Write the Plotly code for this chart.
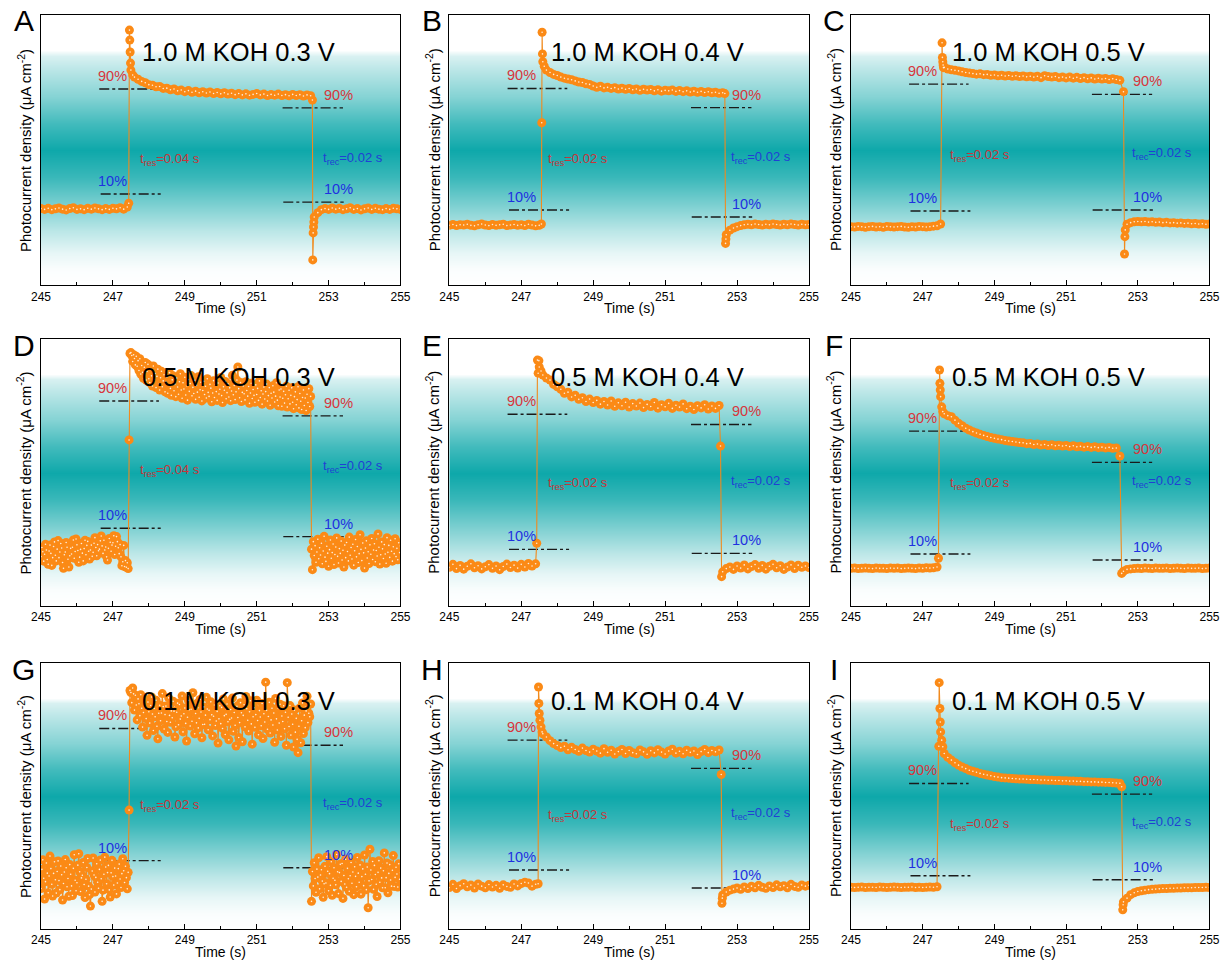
import numpy as np
import plotly.graph_objects as go

# ---------------------------------------------------------------- time grids
T_COARSE = np.round(np.linspace(245.0, 255.0, 101), 3)   # 0.1 s sampling
T_DENSE = np.round(np.linspace(245.0, 255.0, 401), 3)    # 0.025 s sampling

PANEL_LETTERS = ["A", "B", "C", "D", "E", "F", "G", "H", "I"]
PANEL_TITLES = ["1.0 M KOH 0.3 V", "1.0 M KOH 0.4 V", "1.0 M KOH 0.5 V",
                "0.5 M KOH 0.3 V", "0.5 M KOH 0.4 V", "0.5 M KOH 0.5 V",
                "0.1 M KOH 0.3 V", "0.1 M KOH 0.4 V", "0.1 M KOH 0.5 V"]

# ------------------------------------------------ photocurrent (relative units)
CUR_A = [28.3, 28.0, 28.4, 27.9, 28.2, 28.5, 28.1, 27.8, 28.3, 28.6, 28.0, 28.2, 27.9,
         28.4, 28.1, 28.5, 28.2, 27.9, 28.3, 28.0, 28.4, 28.2, 28.6, 28.1, 28.9,
         79.6, 77.0, 76.2, 75.4, 74.9, 74.2, 74.0, 73.4, 73.5, 72.8, 72.9, 72.3, 72.6,
         71.9, 72.2, 71.6, 72.0, 71.4, 71.8, 71.2, 71.6, 71.1, 71.5, 70.9, 71.3, 70.8,
         71.2, 70.7, 71.0, 70.5, 70.9, 70.4, 70.8, 70.3, 70.6, 70.9, 70.4, 70.7, 70.2,
         70.6, 70.3, 70.7, 70.2, 70.5, 70.1, 70.6, 70.2, 70.5, 70.0, 70.4, 70.1,
         25.2, 26.8, 27.9, 28.3, 28.0, 28.5, 28.1, 28.4, 27.9, 28.2, 28.6, 28.0, 28.3,
         27.8, 28.2, 28.5, 28.0, 28.4, 28.1, 27.9, 28.3, 28.0, 28.4, 28.2, 28.0]
EXTRA_T_A = [247.44, 247.46, 247.47, 247.48, 247.49, 247.55, 252.55, 252.56, 252.57, 252.58, 252.59]
EXTRA_I_A = [30.3, 94.4, 90.7, 86.3, 82.2, 77.8, 68.5, 9.3, 19.3, 21.5, 23.3]

CUR_B = [22.1, 22.4, 22.0, 22.3, 22.2, 22.5, 22.1, 21.9, 22.3, 22.6, 22.2, 22.0, 22.4,
         22.1, 22.3, 22.5, 22.0, 22.2, 22.4, 22.1, 22.3, 22.0, 22.5, 22.2, 21.9, 22.1,
         82.7, 79.6, 78.7, 78.0, 77.6, 77.0, 76.6, 76.3, 76.0, 75.6, 75.2, 75.0, 74.5,
         74.3, 73.7, 73.2, 73.6, 73.0, 73.2, 72.8, 73.1, 72.6, 72.9, 72.5, 72.8, 72.3,
         72.6, 72.1, 72.5, 72.2, 72.4, 71.9, 72.3, 71.8, 72.1, 71.9, 72.2, 71.7, 72.0,
         71.6, 71.9, 71.5, 71.8, 71.4, 71.7, 71.3, 71.6, 71.2, 71.4, 71.0, 71.2,
         18.6, 20.3, 21.1, 21.6, 22.0, 22.3, 22.5, 22.3, 22.6, 22.4, 22.2, 22.5, 22.3,
         22.6, 22.4, 22.2, 22.5, 22.3, 22.6, 22.4, 22.2, 22.5, 22.3, 22.4]
EXTRA_T_B = [247.56, 247.57, 247.58, 247.59, 247.64, 252.66, 252.68, 252.69]
EXTRA_I_B = [22.6, 60.1, 93.6, 85.6, 81.0, 70.9, 15.4, 17.0]

CUR_C = [21.6, 21.5, 21.7, 21.6, 21.4, 21.6, 21.7, 21.5, 21.6, 21.4, 21.7, 21.6, 21.5,
         21.6, 21.7, 21.5, 21.4, 21.6, 21.5, 21.7, 21.6, 21.5, 21.6, 21.8, 21.9, 22.6,
         80.6, 80.0, 79.7, 79.5, 79.3, 79.0, 78.7, 78.5, 78.3, 78.1, 78.2, 77.9, 78.0,
         77.7, 77.8, 77.5, 77.7, 77.4, 77.6, 77.3, 77.5, 77.2, 77.4, 77.1, 77.3, 77.0,
         77.3, 76.8, 77.5, 77.2, 77.0, 77.2, 76.8, 77.0, 76.7, 77.0, 76.6, 76.9, 76.5,
         76.8, 76.4, 76.7, 76.3, 76.6, 76.3, 76.5, 76.1, 76.4, 76.1, 75.8, 71.6,
         22.5, 23.1, 23.4, 23.5, 23.4, 23.5, 23.3, 23.4, 23.2, 23.3, 23.1, 23.2, 23.0,
         23.1, 22.9, 23.0, 22.8, 22.9, 22.7, 22.8, 22.6, 22.7, 22.5, 22.6]
EXTRA_T_C = [247.54, 247.55, 247.56, 247.57, 247.58, 252.63, 252.64, 252.65]
EXTRA_I_C = [89.7, 84.3, 82.7, 81.5, 80.5, 11.5, 17.9, 20.4]

CUR_D = [18.5, 21.9, 20.3, 16.8, 19.4, 23.1, 21.0, 17.4, 15.6, 20.6,
         22.8, 19.7, 15.2, 18.1, 22.3, 24.0, 19.0, 16.9, 21.3, 24.5,
         18.1, 20.2, 23.4, 21.7, 16.3, 14.1, 19.2, 20.2, 23.8, 22.0,
         17.5, 14.6, 18.8, 21.6, 19.5, 22.0, 24.7, 17.9, 20.4, 25.1,
         22.9, 20.8, 16.4, 18.3, 21.2, 23.4, 19.8, 16.9, 21.5, 24.6,
         19.2, 22.7, 24.2, 20.5, 17.6, 21.0, 22.8, 18.6, 20.1, 23.5,
         25.6, 21.9, 18.8, 23.0, 20.7, 21.3, 24.4, 26.2, 22.5, 19.7,
         24.6, 21.0, 22.1, 18.4, 17.2, 21.6, 25.3, 23.9, 20.5, 22.8,
         23.7, 26.3, 19.3, 22.4, 26.0, 24.1, 21.8, 19.6, 23.0, 18.4,
         15.1, 16.6, 22.7, 14.8, 17.0, 14.5, 16.2, 14.0,
         62.2,
         94.6, 94.9, 93.8, 91.6, 94.1, 92.7, 90.3, 93.5, 89.8, 91.9,
         88.2, 92.6, 86.9, 90.1, 87.5, 85.3, 89.4, 91.2, 84.6, 87.8,
         90.5, 85.1, 83.7, 88.6, 86.2, 82.4, 89.9, 84.9, 87.1, 81.8,
         86.0, 88.7, 83.2, 80.9, 85.5, 87.9, 82.1, 84.3, 86.6, 80.2,
         83.9, 85.8, 79.7, 82.8, 87.4, 81.5, 78.9, 84.7, 86.2, 80.6,
         83.1, 78.4, 85.4, 82.0, 79.3, 84.0, 87.0, 80.9, 77.8, 83.6,
         81.3, 85.7, 79.0, 82.5, 77.1, 84.8, 80.4, 83.3, 86.3, 78.7,
         81.9, 79.6, 84.5, 77.4, 82.7, 80.1, 85.9, 78.2, 81.0, 83.8,
         76.8, 80.7, 84.2, 79.2, 82.3, 77.9, 85.1, 80.0, 78.5, 83.0,
         81.6, 76.5, 79.8, 84.4, 78.1, 82.9, 80.3, 77.0, 83.5, 79.4,
         81.2, 85.6, 78.8, 76.2, 82.1, 80.8, 84.1, 77.6, 79.9, 83.2,
         78.3, 81.7, 76.9, 80.5, 86.4, 79.1, 82.6, 77.3, 80.2, 84.6,
         89.5, 81.4, 78.0, 83.7, 76.6, 80.0, 82.4, 79.5, 77.2, 84.0,
         80.7, 78.6, 82.2, 75.9, 79.8, 83.4, 77.7, 81.1, 78.9, 76.3,
         82.8, 79.2, 81.5, 77.0, 84.3, 78.1, 80.6, 75.6, 79.4, 82.0,
         77.5, 80.3, 83.1, 76.8, 78.8, 81.8, 75.2, 79.7, 77.9, 82.5,
         80.1, 76.4, 78.6, 83.6, 77.1, 75.0, 80.9, 78.3, 81.3, 74.8,
         77.8, 80.4, 76.0, 79.1, 82.3, 74.5, 77.6, 80.8, 75.7, 78.9,
         81.7, 76.3, 73.9, 78.4, 80.2, 75.4, 77.3, 82.1, 74.2, 79.6,
         76.7, 73.6, 78.1, 80.9, 75.1, 77.9, 73.2, 79.3, 76.2, 81.4,
         74.7, 78.5,
         21.3, 13.6, 24.1, 18.9, 22.6, 16.4, 20.2, 25.0, 17.7, 21.8,
         19.1, 23.5, 15.8, 20.6, 26.1, 18.3, 16.7, 22.4, 19.8, 14.9,
         21.1, 24.7, 17.9, 20.0, 23.2, 15.5, 19.3, 22.1, 25.5, 18.6,
         16.1, 21.5, 19.7, 24.3, 17.2, 20.9, 14.6, 22.8, 18.1, 23.8,
         20.4, 16.9, 25.8, 19.0, 21.9, 17.6, 23.1, 15.3, 20.7, 24.9,
         18.4, 22.3, 16.3, 19.6, 26.7, 21.2, 17.0, 23.6, 19.9, 14.2,
         21.7, 24.4, 18.0, 20.3, 15.9, 22.9, 19.4, 25.3, 17.4, 21.0,
         23.3, 16.6, 20.8, 18.7, 27.0, 22.0, 15.7, 19.2, 24.0, 21.4,
         17.8, 23.0, 19.5, 16.0, 25.6, 20.1, 22.7, 18.2, 24.6, 20.5,
         16.8, 22.2, 19.6, 25.2, 18.5, 21.6, 17.3, 23.7, 20.0, 22.5]

CUR_E = [14.5, 15.6, 14.0, 15.2, 13.8, 14.9, 15.8, 14.3, 15.1, 13.9, 14.7, 15.5, 14.1,
         15.0, 13.6, 14.8, 15.7, 14.4, 15.3, 14.2, 15.6, 14.6, 15.9, 15.0, 15.8,
         89.5, 86.5, 85.4, 84.6, 83.0, 82.1, 81.2, 79.7, 80.1, 78.3, 78.9, 77.4, 78.0,
         76.6, 77.5, 76.2, 77.0, 75.6, 76.6, 75.3, 76.8, 74.8, 76.1, 75.0, 76.3, 74.5,
         75.8, 74.9, 76.0, 74.3, 75.5, 74.7, 76.2, 74.1, 75.4, 74.6, 75.9, 74.0, 75.2,
         74.5, 75.7, 73.9, 74.8, 73.6, 75.0, 74.2, 75.4, 73.8, 74.9, 74.0, 75.1,
         12.8, 14.0, 14.6, 13.7, 15.0, 14.2, 15.4, 13.9, 14.8, 15.5, 14.1, 15.2, 13.8,
         14.9, 15.6, 14.3, 15.1, 13.7, 14.6, 15.4, 14.0, 15.3, 14.5, 15.0, 14.4]
EXTRA_T_E = [247.43, 247.45, 247.47, 247.49, 247.55, 252.54, 252.57]
EXTRA_I_E = [23.5, 92.1, 87.2, 91.9, 88.0, 59.9, 11.0]

CUR_F = [14.1, 14.2, 14.0, 14.1, 14.2, 14.1, 14.0, 14.2, 14.1, 14.1, 14.0, 14.2, 14.1,
         14.2, 14.0, 14.1, 14.2, 14.1, 14.0, 14.2, 14.1, 14.3, 14.2, 14.3, 14.6,
         78.4, 72.0, 71.3, 70.9, 69.6, 68.4, 67.5, 66.6, 65.9, 65.3, 64.8, 64.3, 63.9,
         63.5, 63.1, 62.8, 62.5, 62.3, 62.0, 61.8, 61.6, 61.4, 61.2, 61.1, 60.8, 60.9,
         60.5, 60.7, 60.3, 60.5, 60.1, 60.4, 60.0, 60.2, 59.9, 60.1, 59.7, 60.0, 59.6,
         59.8, 59.5, 59.7, 59.4, 59.6, 59.3, 59.5, 59.2, 59.4, 59.1, 59.2, 56.2,
         13.0, 13.7, 13.9, 14.0, 14.1, 14.0, 14.2, 14.1, 14.0, 14.2, 14.1, 14.1, 14.2,
         14.0, 14.1, 14.2, 14.1, 14.0, 14.2, 14.1, 14.1, 14.2, 14.0, 14.1, 14.2]
EXTRA_T_F = [247.44, 247.47, 247.48, 247.49, 247.53, 247.56, 252.55]
EXTRA_I_F = [17.9, 88.4, 83.4, 80.9, 74.6, 72.8, 12.2]

CUR_G = [15.2, 22.4, 26.0, 19.1, 11.3, 17.8, 24.8, 21.0, 13.6, 19.9,
         27.4, 22.7, 16.8, 12.4, 20.9, 25.3, 18.5, 13.5, 21.6, 25.6,
         18.2, 14.8, 23.7, 20.4, 10.9, 17.1, 21.4, 26.1, 23.0, 15.9,
         19.0, 12.3, 24.2, 20.6, 16.2, 12.6, 22.8, 27.9, 18.3, 14.4,
         17.4, 24.0, 28.3, 21.5, 14.1, 19.2, 20.2, 25.0, 16.7, 11.8,
         18.7, 23.1, 26.5, 16.1, 12.9, 8.6, 15.0, 21.8, 26.7, 20.3,
         13.9, 19.4, 24.5, 17.6, 15.3, 22.4, 25.9, 18.9, 10.4, 14.6,
         20.6, 27.0, 23.3, 17.0, 21.2, 23.9, 14.7, 12.0, 21.1, 25.8,
         19.7, 16.5, 22.9, 19.9, 13.2, 17.3, 22.7, 24.4, 18.8, 15.6,
         20.8, 26.4, 21.9, 17.5, 23.6, 19.3, 15.1, 21.3,
         44.7,
         89.7, 88.9, 85.1, 90.6, 88.4, 82.3, 87.9, 84.2, 78.6, 86.5,
         84.7, 80.2, 88.1, 83.0, 75.9, 81.4, 86.6, 83.4, 79.1, 72.8,
         85.3, 81.7, 77.4, 84.0, 87.2, 80.8, 74.6, 82.9, 79.8, 86.0,
         76.2, 71.5, 81.1, 84.1, 78.3, 81.2, 88.5, 83.6, 75.2, 80.6,
         83.8, 78.0, 73.9, 86.9, 80.3, 77.7, 82.0, 79.4, 85.6, 81.9,
         72.2, 76.0, 81.5, 84.9, 76.8, 84.4, 78.9, 80.1, 87.6, 74.1,
         80.9, 83.1, 77.3, 70.7, 79.6, 85.9, 82.4, 76.3, 82.6, 78.1,
         88.8, 84.0, 73.4, 81.0, 77.5, 84.9, 75.6, 79.2, 86.3, 81.6,
         71.9, 76.9, 83.5, 77.0, 80.4, 87.1, 82.7, 74.9, 82.2, 78.7,
         85.4, 80.5, 72.6, 80.0, 84.2, 76.5, 78.2, 81.8, 69.9, 79.0,
         83.9, 77.2, 83.3, 75.4, 86.5, 80.2, 73.1, 80.7, 84.6, 77.9,
         71.1, 78.8, 82.5, 79.3, 86.8, 74.3, 81.4, 76.6, 68.8, 83.7,
         79.5, 72.0, 77.6, 85.1, 81.3, 70.4, 80.3, 84.3, 76.0, 87.4,
         82.8, 78.5, 74.4, 81.7, 85.8, 77.1, 69.5, 79.8, 83.2, 75.8,
         80.6, 86.0, 78.4, 73.0, 82.1, 79.7, 76.4, 84.8, 71.6, 80.9,
         77.8, 92.8, 82.2, 75.1, 79.9, 85.2, 73.7, 78.6, 83.0, 76.7,
         81.2, 70.2, 86.7, 79.0, 74.8, 82.9, 77.4, 84.5, 72.4, 80.1,
         78.0, 83.9, 75.3, 81.5, 69.1, 92.6, 79.6, 76.1, 84.0, 72.9,
         80.8, 77.0, 68.4, 82.3, 74.0, 79.2, 71.3, 66.3, 76.2, 83.1,
         70.0, 78.3, 85.0, 73.5, 80.4, 75.7, 82.0, 87.5, 77.6, 81.1,
         79.8, 84.6,
         10.4, 21.6, 16.2, 24.9, 19.0, 13.8, 22.5, 19.5, 26.8, 15.1,
         20.3, 22.3, 18.0, 11.9, 17.0, 23.6, 17.3, 27.2, 21.7, 14.4,
         20.8, 16.4, 25.3, 12.7, 19.1, 23.0, 18.3, 16.6, 28.0, 21.5,
         13.3, 21.2, 24.3, 17.9, 24.6, 11.5, 20.1, 16.9, 26.2, 15.7,
         22.8, 18.9, 14.2, 20.0, 25.0, 17.2, 21.4, 12.9, 23.4, 19.8,
         15.9, 26.9, 21.0, 17.6, 24.1, 13.1, 19.7, 22.6, 16.3, 27.8,
         20.6, 14.8, 23.3, 8.0, 18.1, 30.0, 22.2, 18.6, 25.4, 14.9,
         23.9, 20.5, 16.8, 12.2, 21.3, 25.7, 17.6, 22.9, 19.2, 15.5,
         21.9, 28.6, 15.5, 19.3, 24.8, 13.6, 20.9, 24.2, 18.4, 16.1,
         22.1, 27.6, 16.0, 19.4, 23.2, 20.7, 15.8, 24.5, 18.7, 21.1]

CUR_H = [15.6, 16.8, 15.2, 16.3, 17.0, 15.9, 16.5, 15.4, 16.9, 16.1, 15.5, 16.7, 15.8,
         16.4, 15.3, 16.6, 16.0, 15.7, 16.9, 16.2, 17.1, 17.6, 17.3, 16.1, 16.8,
         81.0, 73.4, 72.2, 70.8, 69.7, 69.0, 68.2, 68.7, 67.4, 68.3, 67.5, 66.8, 68.0,
         67.1, 66.5, 67.6, 66.9, 66.1, 67.8, 66.4, 67.2, 65.8, 66.7, 67.5, 66.0, 67.1,
         66.3, 65.9, 67.3, 66.6, 65.7, 67.0, 66.2, 67.4, 66.5, 65.8, 66.9, 67.6, 66.1,
         66.8, 65.9, 67.2, 66.4, 66.9, 65.6, 66.7, 67.5, 66.3, 67.1, 66.6, 67.3,
         12.8, 13.9, 14.6, 15.0, 15.4, 14.9, 15.8, 15.2, 16.1, 15.5, 16.4, 15.7, 15.3,
         16.2, 15.6, 16.6, 15.9, 16.3, 15.5, 16.8, 16.0, 15.7, 16.5, 16.1, 16.4]
EXTRA_T_H = [247.47, 247.48, 247.49, 247.52, 247.55, 247.58, 252.56, 252.58, 252.59]
EXTRA_I_H = [17.0, 91.0, 84.8, 78.5, 76.0, 74.1, 58.1, 9.7, 11.6]

CUR_I = [15.7, 15.6, 15.7, 15.8, 15.6, 15.7, 15.7, 15.6, 15.8, 15.7, 15.6, 15.7, 15.8,
         15.7, 15.6, 15.7, 15.7, 15.8, 15.6, 15.7, 15.6, 15.7, 15.8, 15.7, 15.9,
         74.1, 66.0, 64.5, 63.5, 62.5, 61.6, 60.9, 60.3, 59.7, 59.3, 58.9, 58.5, 58.2,
         57.9, 57.6, 57.3, 57.1, 56.9, 56.8, 56.7, 56.6, 56.5, 56.4, 56.4, 56.3, 56.2,
         56.2, 56.1, 56.0, 56.0, 55.9, 55.9, 55.8, 55.8, 55.7, 55.7, 55.6, 55.6, 55.5,
         55.5, 55.4, 55.4, 55.3, 55.3, 55.2, 55.2, 55.1, 55.1, 55.0, 54.9, 54.8,
         10.2, 11.6, 12.9, 13.6, 14.1, 14.4, 14.6, 14.8, 14.9, 15.0, 15.1, 15.2, 15.2,
         15.3, 15.3, 15.4, 15.4, 15.5, 15.5, 15.5, 15.6, 15.6, 15.6, 15.7, 15.6]
EXTRA_T_I = [247.45, 247.46, 247.48, 247.49, 247.53, 247.56, 252.55, 252.58, 252.59]
EXTRA_I_I = [68.7, 92.6, 82.9, 77.8, 71.0, 68.5, 53.5, 7.2, 9.1]

# ------------------------------------------- 90 % / 10 % guide levels per panel
LEVEL90_L = [72.6, 72.8, 74.4, 76.8, 71.8, 65.5, 75.4, 71.0, 54.7]
LEVEL10_L = [33.7, 27.8, 27.4, 29.1, 21.2, 19.5, 25.7, 22.2, 20.0]
LEVEL90_R = [65.6, 65.7, 70.6, 71.2, 68.0, 53.8, 69.1, 60.4, 50.7]
LEVEL10_R = [30.7, 25.2, 27.8, 26.0, 19.7, 17.2, 23.0, 15.4, 18.5]
T_RES = ["0.04", "0.02", "0.02", "0.04", "0.02", "0.02", "0.02", "0.02", "0.02"]
T_REC = ["0.02", "0.02", "0.02", "0.02", "0.02", "0.02", "0.02", "0.02", "0.02"]
T_RES_Y = [46.3, 46.3, 48.1, 50.9, 46.0, 46.0, 46.3, 42.5, 39.1]
T_REC_Y = [47.0, 47.2, 48.8, 52.2, 46.8, 46.8, 47.0, 43.5, 40.0]

# background band profile (position on the 0-100 axis, teal strength)
GRAD_POS = [0, 6, 12, 20, 30, 40, 50, 60, 70, 80, 85, 87, 100]
GRAD_LEVEL = [0, 0.02, 0.1, 0.28, 0.55, 0.82, 1.0, 0.78, 0.5, 0.28, 0.16, 0.0, 0.0]


def build_series(grid, cur, extra_t=(), extra_i=()):
    if len(grid) != len(cur):
        raise ValueError(f"series length mismatch: {len(grid)} vs {len(cur)}")
    t = np.concatenate([grid, np.asarray(extra_t, float)])
    v = np.concatenate([np.asarray(cur, float), np.asarray(extra_i, float)])
    order = np.argsort(t, kind="stable")
    return t[order], v[order]


SERIES = [
    build_series(T_COARSE, CUR_A, EXTRA_T_A, EXTRA_I_A),
    build_series(T_COARSE, CUR_B, EXTRA_T_B, EXTRA_I_B),
    build_series(T_COARSE, CUR_C, EXTRA_T_C, EXTRA_I_C),
    build_series(T_DENSE, CUR_D),
    build_series(T_COARSE, CUR_E, EXTRA_T_E, EXTRA_I_E),
    build_series(T_COARSE, CUR_F, EXTRA_T_F, EXTRA_I_F),
    build_series(T_DENSE, CUR_G),
    build_series(T_COARSE, CUR_H, EXTRA_T_H, EXTRA_I_H),
    build_series(T_COARSE, CUR_I, EXTRA_T_I, EXTRA_I_I),
]

# ------------------------------------------------------------------- styling
FONT = "Liberation Sans, Arial, sans-serif"
ORANGE = "#fb8a16"
ORANGE_LINE = "#f08a1e"
TEAL = "rgb(14,168,170)"
RED = "#d7363c"
BLUE = "#1f30e0"
RED_T = "#c7353a"
BLUE_T = "#2040d4"
DASHDOT = "10px,3px,3px,3px"

COL_DOMAINS = [(0.03355, 0.32774), (0.36768, 0.66203), (0.69640, 0.98977)]
ROW_DOMAINS = [(0.70527, 0.98449), (0.37332, 0.64943), (0.03930, 0.31437)]

fig = go.Figure()
layout = dict(
    width=1222, height=967,
    margin=dict(l=0, r=0, t=0, b=0, autoexpand=False),
    paper_bgcolor="white", plot_bgcolor="white",
    showlegend=False,
    font=dict(family=FONT, color="black"),
)
annotations = []

for k in range(9):
    r, c = divmod(k, 3)
    sfx = "" if k == 0 else str(k + 1)
    xa, ya = "x" + sfx, "y" + sfx

    layout["xaxis" + sfx] = dict(
        domain=list(COL_DOMAINS[c]), anchor=ya, range=[245, 255], automargin=False,
        tick0=245, dtick=2, ticks="inside", ticklen=5, tickwidth=1, tickcolor="black",
        minor=dict(dtick=1, tick0=245, ticks="inside", ticklen=3, tickwidth=1, tickcolor="black"),
        showgrid=False, zeroline=False, showline=True, mirror=True,
        linecolor="black", linewidth=1.2,
        tickfont=dict(size=12, family=FONT, color="black"),
        fixedrange=True,
    )
    layout["yaxis" + sfx] = dict(
        domain=list(ROW_DOMAINS[r]), anchor=xa, range=[0, 100], automargin=False,
        showticklabels=False, ticks="", showgrid=False, zeroline=False,
        showline=True, mirror=True, linecolor="black", linewidth=1.2,
        fixedrange=True,
    )

    # teal band behind the data
    fig.add_trace(go.Heatmap(
        x=[245, 255], y=GRAD_POS, z=[[g, g] for g in GRAD_LEVEL],
        zmin=0, zmax=1, zsmooth="best", showscale=False, hoverinfo="skip",
        colorscale=[[0, "white"], [1, TEAL]], xaxis=xa, yaxis=ya,
    ))

    # 90 % / 10 % dash-dot guides
    for lv, span in ((LEVEL90_L[k], (246.62, 248.28)), (LEVEL10_L[k], (246.66, 248.33)),
                     (LEVEL90_R[k], (251.72, 253.40)), (LEVEL10_R[k], (251.74, 253.42))):
        fig.add_trace(go.Scatter(
            x=list(span), y=[lv, lv], mode="lines",
            line=dict(color="#1a1a1a", width=1.4, dash=DASHDOT),
            hoverinfo="skip", xaxis=xa, yaxis=ya,
        ))

    t, v = SERIES[k]
    fig.add_trace(go.Scatter(
        x=t, y=v, mode="lines+markers",
        line=dict(color=ORANGE_LINE, width=1.1),
        marker=dict(size=9, color=ORANGE, line=dict(width=0)),
        hoverinfo="skip", xaxis=xa, yaxis=ya,
    ))
    # small glossy highlight on each ball
    fig.add_trace(go.Scatter(
        x=t, y=v, mode="markers",
        marker=dict(size=1.6, color="rgba(255,255,255,0.85)", line=dict(width=0)),
        hoverinfo="skip", xaxis=xa, yaxis=ya,
    ))

    xd, yd = xa + " domain", ya + " domain"

    # panel letter, condition title, axis titles
    annotations.append(dict(text=PANEL_LETTERS[k], xref=xd, yref=yd, x=0, y=1,
                            xshift=-17, yshift=-6, xanchor="center", yanchor="middle",
                            showarrow=False, font=dict(size=30, family=FONT, color="black")))
    annotations.append(dict(text=PANEL_TITLES[k], xref=xd, yref=yd, x=0.55, y=1,
                            yshift=-37.5, xanchor="center", yanchor="middle",
                            showarrow=False, font=dict(size=25.5, family=FONT, color="black")))
    annotations.append(dict(text="Time (s)", xref=xd, yref=yd, x=0.5, y=0,
                            yshift=-23, xanchor="center", yanchor="middle",
                            showarrow=False, font=dict(size=14, family=FONT, color="black")))
    annotations.append(dict(text="Photocurrent density (μA cm<sup>-2</sup>)", xref=xd, yref=yd,
                            x=0, y=0.5, xshift=-17, xanchor="center", yanchor="middle",
                            textangle=-90, showarrow=False,
                            font=dict(size=15, family=FONT, color="black")))

    # percentage labels above the guides
    for txt, xx, lv, col in (("90%", 247.0, LEVEL90_L[k], RED), ("10%", 247.0, LEVEL10_L[k], BLUE),
                             ("90%", 253.27, LEVEL90_R[k], RED), ("10%", 253.27, LEVEL10_R[k], BLUE)):
        annotations.append(dict(text=txt, xref=xa, yref=ya, x=xx, y=lv, yshift=13,
                                xanchor="center", yanchor="middle", showarrow=False,
                                font=dict(size=14.5, family=FONT, color=col)))

    annotations.append(dict(text=f"t<sub>res</sub>={T_RES[k]} s", xref=xa, yref=ya,
                            x=247.7, y=T_RES_Y[k], xanchor="left", yanchor="middle",
                            showarrow=False, font=dict(size=13, family=FONT, color=RED_T)))
    annotations.append(dict(text=f"t<sub>rec</sub>={T_REC[k]} s", xref=xa, yref=ya,
                            x=252.78, y=T_REC_Y[k], xanchor="left", yanchor="middle",
                            showarrow=False, font=dict(size=13, family=FONT, color=BLUE_T)))

layout["annotations"] = annotations
fig.update_layout(**layout)
fig.write_html("out.html")
